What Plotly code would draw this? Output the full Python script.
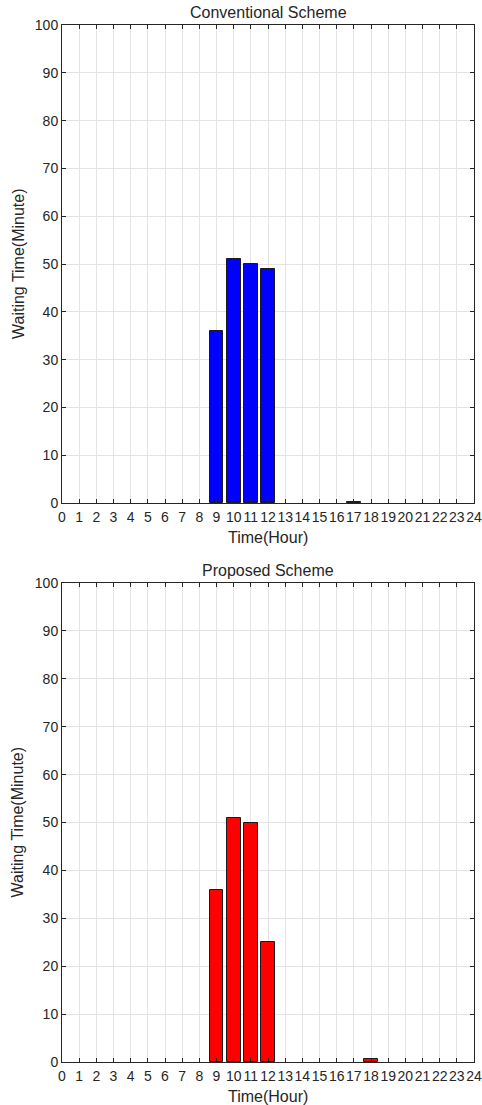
import plotly.graph_objects as go

conv_hours = [9, 10, 11, 12, 17]
conv_wait = [36, 51, 50, 49, 0.3]
prop_hours = [9, 10, 11, 12, 18]
prop_wait = [36, 51, 50, 25, 0.6]
x_ticks = list(range(0, 25))
y_ticks = list(range(0, 101, 10))

fig = go.Figure()
fig.add_trace(go.Bar(x=conv_hours, y=conv_wait, width=0.8, marker=dict(color="#0000ff", line=dict(color="#1a1a1a", width=1)),
                     xaxis="x", yaxis="y", showlegend=False))
fig.add_trace(go.Bar(x=prop_hours, y=prop_wait, width=0.8, marker=dict(color="#ff0000", line=dict(color="#1a1a1a", width=1)),
                     xaxis="x2", yaxis="y2", showlegend=False))

tf = dict(family="Liberation Sans, Arial, sans-serif", size=14, color="#262626")
axcommon = dict(showline=True, linecolor="#262626", linewidth=1, mirror="ticks", ticks="inside", ticklen=4,
                tickcolor="#262626", showgrid=True, gridcolor="#e3e3e3", gridwidth=1, zeroline=False,
                automargin=False, tickfont=tf, ticklabeloverflow="allow", tickangle=0)

top_dom = [0.539, 1]
bot_dom = [0, 0.4619]
title_font = dict(family="Liberation Sans, Arial, sans-serif", size=16, color="#262626")

annotations = []
for dom, ttl in [(top_dom, "Conventional Scheme"), (bot_dom, "Proposed Scheme")]:
    annotations.append(dict(text=ttl, x=0.5, y=dom[1], xref="paper", yref="paper", xanchor="center",
                            yanchor="middle", yshift=13, showarrow=False, font=title_font))
    annotations.append(dict(text="Time(Hour)", x=0.5, y=dom[0], xref="paper", yref="paper", xanchor="center",
                            yanchor="middle", yshift=-34, showarrow=False, font=title_font))
    annotations.append(dict(text="Waiting Time(Minute)", x=0, y=(dom[0] + dom[1]) / 2, xref="paper", yref="paper",
                            xanchor="center", yanchor="middle", xshift=-44, textangle=-90, showarrow=False,
                            font=title_font))

fig.update_layout(
    width=482, height=1105,
    margin=dict(l=62, r=8, t=25, b=43),
    plot_bgcolor="white", paper_bgcolor="white",
    font=tf,
    xaxis=dict(domain=[0, 1], anchor="y", range=[0, 24], tickvals=x_ticks, ticklabelstandoff=1, **axcommon),
    yaxis=dict(domain=top_dom, anchor="x", range=[0, 100], tickvals=y_ticks, **axcommon),
    xaxis2=dict(domain=[0, 1], anchor="y2", range=[0, 24], tickvals=x_ticks, ticklabelstandoff=1, **axcommon),
    yaxis2=dict(domain=bot_dom, anchor="x2", range=[0, 100], tickvals=y_ticks, **axcommon),
    bargap=0,
    annotations=annotations,
)

fig.write_html("out.html", config={"displayModeBar": False},
               post_script="document.body.style.margin='0';document.body.style.overflow='hidden';")
